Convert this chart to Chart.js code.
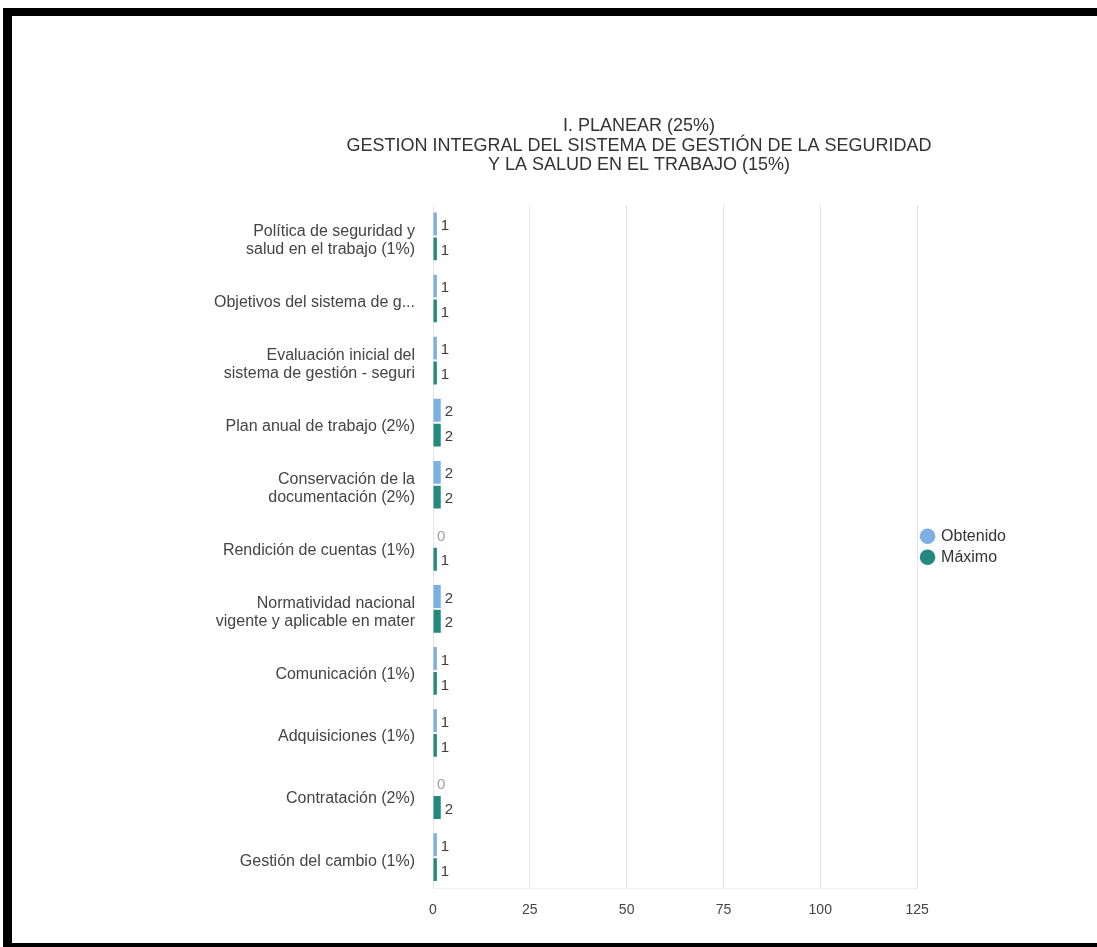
<!DOCTYPE html>
<html>
<head>
<meta charset="utf-8">
<script src="https://cdn.jsdelivr.net/npm/chart.js@4.4.0/dist/chart.umd.min.js"></script>
<style>
    html, body { margin: 0; padding: 0; background: #ffffff; overflow: hidden; }
    #grafico { position: absolute; left: 0; top: 0; }
    #marco {
        position: absolute; left: 3px; top: 8px; width: 1200px; height: 939px;
        box-sizing: border-box; pointer-events: none;
        border-top: 8px solid #000; border-left: 9px solid #000; border-bottom: 4px solid #000;
    }
</style>
</head>
<body>
<canvas id="grafico" width="1097" height="947"></canvas>
<div id="marco"></div>
<script>
const titulo = [
    "I. PLANEAR (25%)",
    "GESTION INTEGRAL DEL SISTEMA DE GESTIÓN DE LA SEGURIDAD",
    "Y LA SALUD EN EL TRABAJO (15%)"
];

const categorias = [
    ["Política de seguridad y", "salud en el trabajo (1%)"],
    "Objetivos del sistema de g...",
    ["Evaluación inicial del", "sistema de gestión - seguri"],
    "Plan anual de trabajo (2%)",
    ["Conservación de la", "documentación (2%)"],
    "Rendición de cuentas (1%)",
    ["Normatividad nacional", "vigente y aplicable en mater"],
    "Comunicación (1%)",
    "Adquisiciones (1%)",
    "Contratación (2%)",
    "Gestión del cambio (1%)"
];

const obtenido = [1, 1, 1, 2, 2, 0, 2, 1, 1, 0, 1];
const maximo   = [1, 1, 1, 2, 2, 1, 2, 1, 1, 2, 1];

const ejeXMin = 0;
const ejeXMax = 125;
const ejeXPaso = 25;

const fuente = "'Liberation Sans', Arial, sans-serif";

// numeros al final de cada barra
const etiquetasValor = {
    id: "etiquetasValor",
    afterDatasetsDraw(chart) {
        const ctx = chart.ctx;
        ctx.save();
        ctx.font = "15px " + fuente;
        ctx.textBaseline = "middle";
        ctx.textAlign = "left";
        chart.data.datasets.forEach((ds, i) => {
            chart.getDatasetMeta(i).data.forEach((barra, j) => {
                const v = ds.data[j];
                ctx.fillStyle = v === 0 ? "#a0a0a0" : "#3c3c3c";
                ctx.fillText(String(v), barra.x + 4, barra.y + 2);
            });
        });
        ctx.restore();
    }
};

new Chart(document.getElementById("grafico"), {
    type: "bar",
    data: {
        labels: categorias,
        datasets: [
            {
                label: "Obtenido",
                data: obtenido,
                backgroundColor: "#7cb0e4",
                categoryPercentage: 0.8,
                barPercentage: 0.92
            },
            {
                label: "Máximo",
                data: maximo,
                backgroundColor: "#23897f",
                categoryPercentage: 0.8,
                barPercentage: 0.92
            }
        ]
    },
    options: {
        indexAxis: "y",
        responsive: false,
        animation: false,
        layout: {
            padding: { top: 106, bottom: 14, left: 181, right: 0 }
        },
        plugins: {
            title: {
                display: true,
                text: titulo,
                color: "#333333",
                font: { family: fuente, size: 18, weight: "normal", lineHeight: 1.1 },
                padding: { top: 10, bottom: 30 }
            },
            legend: {
                position: "right",
                align: "center",
                fullSize: false,
                labels: {
                    usePointStyle: true,
                    pointStyle: "circle",
                    boxWidth: 11,
                    boxHeight: 11,
                    padding: 5,
                    color: "#333333",
                    font: { family: fuente, size: 16 }
                }
            },
            tooltip: { enabled: false }
        },
        scales: {
            x: {
                min: ejeXMin,
                max: ejeXMax,
                ticks: {
                    stepSize: ejeXPaso,
                    color: "#444444",
                    padding: 14,
                    font: { family: fuente, size: 14 }
                },
                grid: { color: "#e4e4e4", drawTicks: false },
                border: { display: true, color: "#eeeeee" }
            },
            y: {
                afterFit(scale) { scale.width = 252; },
                ticks: {
                    autoSkip: false,
                    color: "#444444",
                    padding: 10,
                    labelOffset: 4,
                    font: { family: fuente, size: 16, lineHeight: 1.125 }
                },
                grid: { display: false },
                border: { display: false }
            },
            // margen vacio a la derecha de la leyenda
            margenDer: {
                type: "linear",
                position: "right",
                weight: 2000,
                ticks: { display: false },
                grid: { display: false },
                border: { display: false },
                afterFit(scale) { scale.width = 81; }
            }
        }
    },
    plugins: [etiquetasValor]
});
</script>
</body>
</html>
